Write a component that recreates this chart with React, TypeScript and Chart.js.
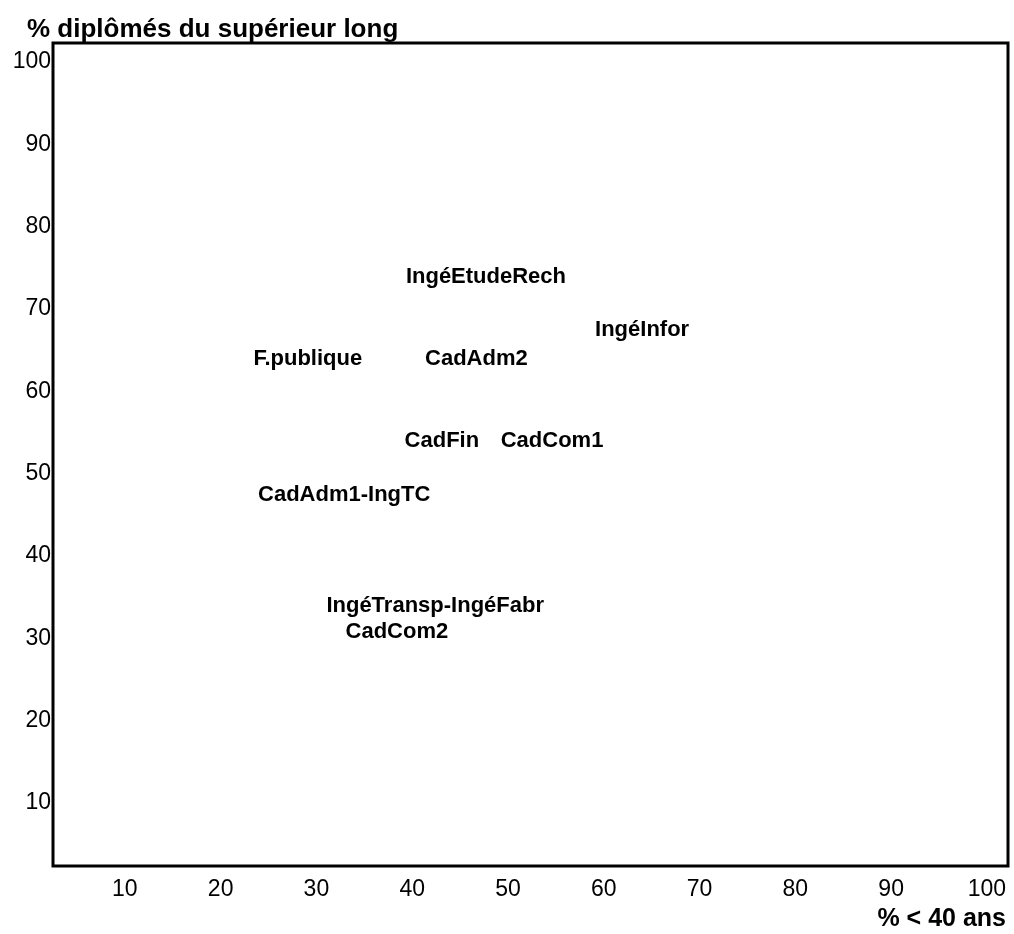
import React, { useEffect, useRef } from "react";
import { Chart, registerables } from "chart.js";

Chart.register(...registerables);

const pointLabels = [
  "IngéEtudeRech",
  "IngéInfor",
  "F.publique",
  "CadAdm2",
  "CadFin",
  "CadCom1",
  "CadAdm1-IngTC",
  "IngéTransp-IngéFabr",
  "CadCom2",
];
const xValues = [47.7, 64.0, 29.1, 46.7, 43.1, 54.6, 32.9, 42.4, 38.4];
const yValues = [73.9, 67.4, 63.9, 63.9, 54.0, 54.0, 47.4, 33.9, 30.8];
const tickValues = [10, 20, 30, 40, 50, 60, 70, 80, 90, 100];
const xTitle = "% < 40 ans";
const yTitle = "% diplômés du supérieur long";

const FONT = "'Liberation Sans', Arial, sans-serif";

export default function App() {
  const ref = useRef<HTMLCanvasElement | null>(null);

  useEffect(() => {
    if (!ref.current) return;
    const labelPlugin = {
      id: "labelPlugin",
      afterDatasetsDraw(chart: any) {
        const ctx = chart.ctx;
        const meta = chart.getDatasetMeta(0);
        ctx.save();
        ctx.fillStyle = "#000";
        ctx.font = `bold 22px ${FONT}`;
        ctx.textAlign = "center";
        ctx.textBaseline = "middle";
        meta.data.forEach((pt: any, i: number) => {
          ctx.fillText(pointLabels[i], pt.x, pt.y);
        });
        ctx.restore();
      },
      afterDraw(chart: any) {
        const ctx = chart.ctx;
        const a = chart.chartArea;
        ctx.save();
        ctx.strokeStyle = "#000";
        ctx.lineWidth = 3;
        ctx.strokeRect(a.left, a.top, a.right - a.left, a.bottom - a.top);
        ctx.fillStyle = "#000";
        ctx.textBaseline = "alphabetic";
        ctx.font = `bold 26px ${FONT}`;
        ctx.textAlign = "left";
        ctx.fillText(yTitle, 27, 37);
        ctx.font = `bold 25px ${FONT}`;
        ctx.textAlign = "right";
        ctx.fillText(xTitle, 1006, 926);
        ctx.restore();
      },
    };

    const chart = new Chart(ref.current, {
      type: "scatter",
      data: {
        datasets: [
          {
            data: xValues.map((x, i) => ({ x, y: yValues[i] })),
            pointRadius: 0,
            pointHoverRadius: 0,
            showLine: false,
          },
        ],
      },
      options: {
        animation: false,
        responsive: true,
        maintainAspectRatio: false,
        devicePixelRatio: 1,
        layout: { padding: { top: 43, right: 6, bottom: 0, left: 0 } },
        plugins: {
          legend: { display: false },
          tooltip: { enabled: false },
          title: { display: false },
        },
        scales: {
          x: {
            type: "linear",
            min: 2.5,
            max: 102.2,
            grid: { display: false, drawTicks: false },
            border: { display: false },
            afterBuildTicks: (s: any) => {
              s.ticks = tickValues.map((v) => ({ value: v }));
            },
            afterFit: (s: any) => {
              s.height = 68;
              s.paddingLeft = 0;
              s.paddingRight = 0;
            },
            ticks: {
              autoSkip: false,
              maxRotation: 0,
              padding: 10,
              color: "#000",
              font: { family: FONT, size: 23 },
            },
          },
          y: {
            type: "linear",
            min: 2.35,
            max: 102.3,
            grid: { display: false, drawTicks: false },
            border: { display: false },
            afterBuildTicks: (s: any) => {
              s.ticks = tickValues.map((v) => ({ value: v }));
            },
            afterFit: (s: any) => {
              s.width = 53;
              s.paddingTop = 0;
              s.paddingBottom = 0;
            },
            ticks: {
              autoSkip: false,
              padding: 2,
              color: "#000",
              font: { family: FONT, size: 23 },
            },
          },
        },
      },
      plugins: [labelPlugin],
    });
    return () => chart.destroy();
  }, []);

  return (
    <div
      style={{
        position: "fixed",
        left: 0,
        top: 0,
        width: 1014,
        height: 934,
        background: "#fff",
      }}
    >
      <canvas ref={ref} />
    </div>
  );
}
